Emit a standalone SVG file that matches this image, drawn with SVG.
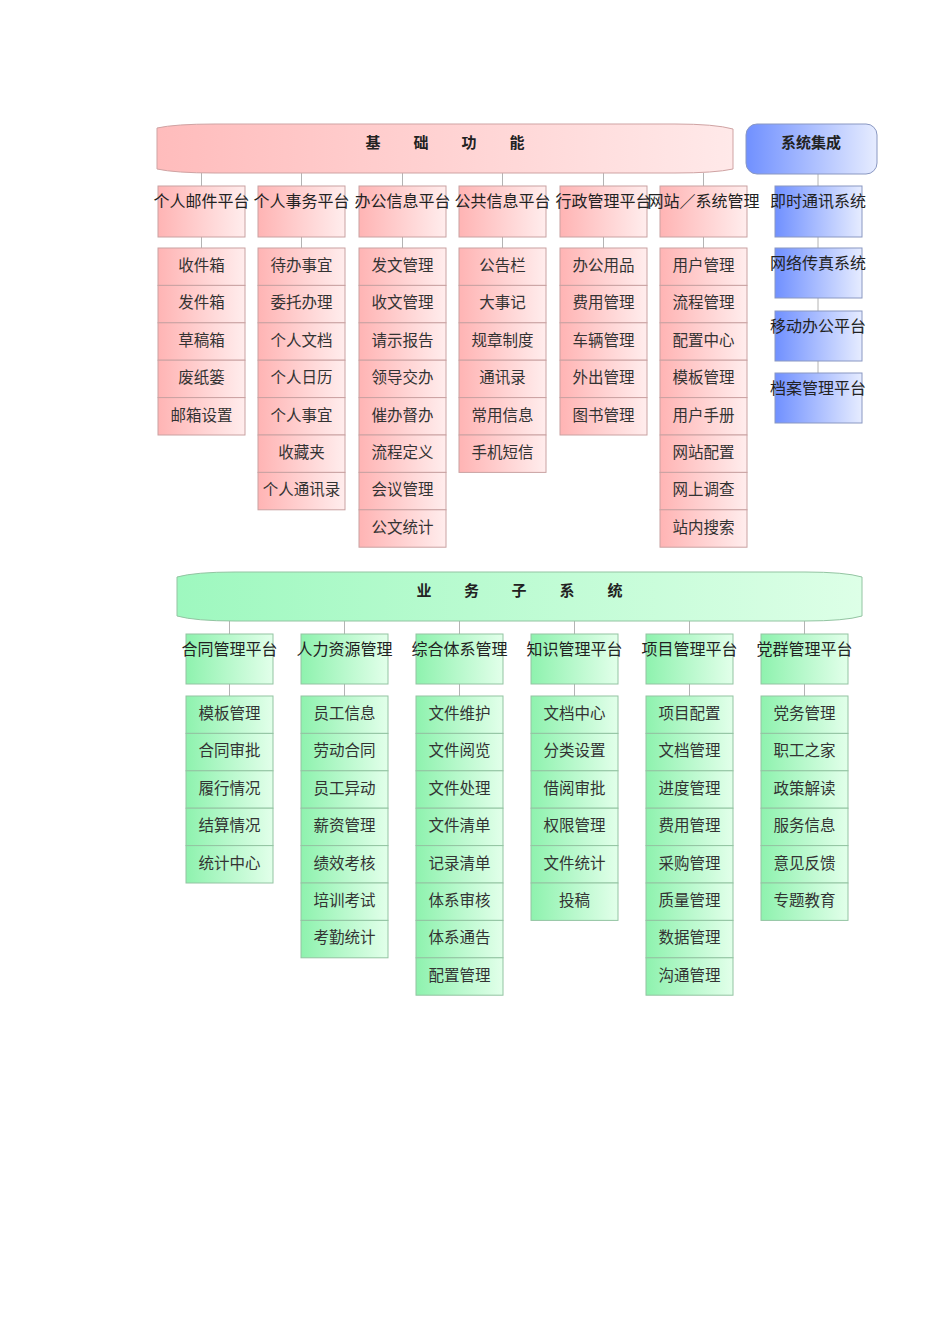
<svg xmlns="http://www.w3.org/2000/svg" width="950" height="1344" viewBox="0 0 950 1344">
<defs>
<linearGradient id="gR" x1="0" y1="0" x2="1" y2="0"><stop offset="0" stop-color="#ffb4b4"/><stop offset="1" stop-color="#ffeded"/></linearGradient>
<linearGradient id="gRB" x1="0" y1="0" x2="1" y2="0"><stop offset="0" stop-color="#ffbcbc"/><stop offset="1" stop-color="#ffe9e9"/></linearGradient>
<linearGradient id="gG" x1="0" y1="0" x2="1" y2="0"><stop offset="0" stop-color="#8ef2ae"/><stop offset="1" stop-color="#e2ffea"/></linearGradient>
<linearGradient id="gGB" x1="0" y1="0" x2="1" y2="0"><stop offset="0" stop-color="#9ef8bf"/><stop offset="1" stop-color="#ddffe7"/></linearGradient>
<linearGradient id="gB" x1="0" y1="0" x2="1" y2="0"><stop offset="0" stop-color="#7090ff"/><stop offset="1" stop-color="#e6ecff"/></linearGradient>
</defs>
<style>
.r{fill:url(#gR);stroke:#c9a2a2;stroke-width:1}
.g{fill:url(#gG);stroke:#93c4a2;stroke-width:1}
.b{fill:url(#gB);stroke:#8a98c2;stroke-width:1}
.t{font-family:"Noto Sans CJK SC","Noto Sans",sans-serif;font-size:15.5px;fill:#333;text-anchor:middle}
.h{font-family:"Noto Sans CJK SC","Noto Sans",sans-serif;font-size:16px;fill:#222;text-anchor:middle}
.ti{font-family:"Noto Sans CJK SC","Noto Sans",sans-serif;font-size:15px;font-weight:bold;fill:#222;text-anchor:middle}
.c{stroke:#b4b4b4;stroke-width:1;fill:none}
</style>
<rect width="950" height="1344" fill="#ffffff"/>

<g id="connectors">
<path class="c" d="M201.5,173V186M301.5,173V186M402.5,173V186M502.5,173V186M603.5,173V186M703.5,173V186"/>
<path class="c" d="M201.5,237V248M301.5,237V248M402.5,237V248M502.5,237V248M603.5,237V248M703.5,237V248"/>
<path class="c" d="M818,174V186M818,237V248M818,298V311M818,361V373"/>
<path class="c" d="M229.5,621V634M344.5,621V634M459.5,621V634M574.5,621V634M689.5,621V634M804.5,621V634"/>
<path class="c" d="M229.5,684V696M344.5,684V696M459.5,684V696M574.5,684V696M689.5,684V696M804.5,684V696"/>
</g>

<g id="banner-basic">
<path d="M157,128 Q175,124 215,124 L675,124 Q715,124 733,129 L733,169 Q715,173 675,173 L215,173 Q175,173 157,169 Z" fill="url(#gRB)" stroke="#cfa3a3"/>
<text class="ti" x="373 421 469 517" y="148">基础功能</text>
</g>
<g id="banner-integration">
<rect x="746" y="124" width="131" height="50" rx="11" class="b"/>
<text class="ti" x="811" y="148">系统集成</text>
</g>
<g id="banner-business">
<path d="M177,577 Q195,572 235,572 L805,572 Q845,572 862,577 L862,616 Q845,621 805,621 L235,621 Q195,621 177,616 Z" fill="url(#gGB)" stroke="#93c4a2"/>
<text class="ti" x="424 471.5 519 567 615" y="596">业务子系统</text>
</g>

<!-- red platforms -->
<g id="p-mail"><rect class="r" x="158" y="186" width="87" height="51"/><text class="h" x="201.5" y="207">个人邮件平台</text></g>
<g id="p-affair"><rect class="r" x="258" y="186" width="87" height="51"/><text class="h" x="301.5" y="207">个人事务平台</text></g>
<g id="p-office"><rect class="r" x="359" y="186" width="87" height="51"/><text class="h" x="402.5" y="207">办公信息平台</text></g>
<g id="p-public"><rect class="r" x="459" y="186" width="87" height="51"/><text class="h" x="502.5" y="207">公共信息平台</text></g>
<g id="p-admin"><rect class="r" x="560" y="186" width="87" height="51"/><text class="h" x="603.5" y="207">行政管理平台</text></g>
<g id="p-site"><rect class="r" x="660" y="186" width="87" height="51"/><text class="h" x="703.5" y="207">网站／系统管理</text></g>

<!-- blue -->
<g id="b-im"><rect class="b" x="775" y="186" width="87" height="51"/><text class="h" x="818" y="207">即时通讯系统</text></g>
<g id="b-fax"><rect class="b" x="775" y="248" width="87" height="50"/><text class="h" x="818" y="269">网络传真系统</text></g>
<g id="b-mobile"><rect class="b" x="775" y="311" width="87" height="50"/><text class="h" x="818" y="332">移动办公平台</text></g>
<g id="b-archive"><rect class="b" x="775" y="373" width="87" height="50"/><text class="h" x="818" y="394">档案管理平台</text></g>

<!-- red col 1 -->
<g id="r1-1"><rect class="r" x="158" y="248" width="87" height="37.4"/><text class="t" x="201.5" y="271">收件箱</text></g>
<g id="r1-2"><rect class="r" x="158" y="285.4" width="87" height="37.4"/><text class="t" x="201.5" y="308.4">发件箱</text></g>
<g id="r1-3"><rect class="r" x="158" y="322.8" width="87" height="37.4"/><text class="t" x="201.5" y="345.8">草稿箱</text></g>
<g id="r1-4"><rect class="r" x="158" y="360.2" width="87" height="37.4"/><text class="t" x="201.5" y="383.2">废纸篓</text></g>
<g id="r1-5"><rect class="r" x="158" y="397.6" width="87" height="37.4"/><text class="t" x="201.5" y="420.6">邮箱设置</text></g>
<!-- red col 2 -->
<g id="r2-1"><rect class="r" x="258" y="248" width="87" height="37.4"/><text class="t" x="301.5" y="271">待办事宜</text></g>
<g id="r2-2"><rect class="r" x="258" y="285.4" width="87" height="37.4"/><text class="t" x="301.5" y="308.4">委托办理</text></g>
<g id="r2-3"><rect class="r" x="258" y="322.8" width="87" height="37.4"/><text class="t" x="301.5" y="345.8">个人文档</text></g>
<g id="r2-4"><rect class="r" x="258" y="360.2" width="87" height="37.4"/><text class="t" x="301.5" y="383.2">个人日历</text></g>
<g id="r2-5"><rect class="r" x="258" y="397.6" width="87" height="37.4"/><text class="t" x="301.5" y="420.6">个人事宜</text></g>
<g id="r2-6"><rect class="r" x="258" y="435" width="87" height="37.4"/><text class="t" x="301.5" y="458">收藏夹</text></g>
<g id="r2-7"><rect class="r" x="258" y="472.4" width="87" height="37.4"/><text class="t" x="301.5" y="495.4">个人通讯录</text></g>
<!-- red col 3 -->
<g id="r3-1"><rect class="r" x="359" y="248" width="87" height="37.4"/><text class="t" x="402.5" y="271">发文管理</text></g>
<g id="r3-2"><rect class="r" x="359" y="285.4" width="87" height="37.4"/><text class="t" x="402.5" y="308.4">收文管理</text></g>
<g id="r3-3"><rect class="r" x="359" y="322.8" width="87" height="37.4"/><text class="t" x="402.5" y="345.8">请示报告</text></g>
<g id="r3-4"><rect class="r" x="359" y="360.2" width="87" height="37.4"/><text class="t" x="402.5" y="383.2">领导交办</text></g>
<g id="r3-5"><rect class="r" x="359" y="397.6" width="87" height="37.4"/><text class="t" x="402.5" y="420.6">催办督办</text></g>
<g id="r3-6"><rect class="r" x="359" y="435" width="87" height="37.4"/><text class="t" x="402.5" y="458">流程定义</text></g>
<g id="r3-7"><rect class="r" x="359" y="472.4" width="87" height="37.4"/><text class="t" x="402.5" y="495.4">会议管理</text></g>
<g id="r3-8"><rect class="r" x="359" y="509.8" width="87" height="37.4"/><text class="t" x="402.5" y="532.8">公文统计</text></g>
<!-- red col 4 -->
<g id="r4-1"><rect class="r" x="459" y="248" width="87" height="37.4"/><text class="t" x="502.5" y="271">公告栏</text></g>
<g id="r4-2"><rect class="r" x="459" y="285.4" width="87" height="37.4"/><text class="t" x="502.5" y="308.4">大事记</text></g>
<g id="r4-3"><rect class="r" x="459" y="322.8" width="87" height="37.4"/><text class="t" x="502.5" y="345.8">规章制度</text></g>
<g id="r4-4"><rect class="r" x="459" y="360.2" width="87" height="37.4"/><text class="t" x="502.5" y="383.2">通讯录</text></g>
<g id="r4-5"><rect class="r" x="459" y="397.6" width="87" height="37.4"/><text class="t" x="502.5" y="420.6">常用信息</text></g>
<g id="r4-6"><rect class="r" x="459" y="435" width="87" height="37.4"/><text class="t" x="502.5" y="458">手机短信</text></g>
<!-- red col 5 -->
<g id="r5-1"><rect class="r" x="560" y="248" width="87" height="37.4"/><text class="t" x="603.5" y="271">办公用品</text></g>
<g id="r5-2"><rect class="r" x="560" y="285.4" width="87" height="37.4"/><text class="t" x="603.5" y="308.4">费用管理</text></g>
<g id="r5-3"><rect class="r" x="560" y="322.8" width="87" height="37.4"/><text class="t" x="603.5" y="345.8">车辆管理</text></g>
<g id="r5-4"><rect class="r" x="560" y="360.2" width="87" height="37.4"/><text class="t" x="603.5" y="383.2">外出管理</text></g>
<g id="r5-5"><rect class="r" x="560" y="397.6" width="87" height="37.4"/><text class="t" x="603.5" y="420.6">图书管理</text></g>
<!-- red col 6 -->
<g id="r6-1"><rect class="r" x="660" y="248" width="87" height="37.4"/><text class="t" x="703.5" y="271">用户管理</text></g>
<g id="r6-2"><rect class="r" x="660" y="285.4" width="87" height="37.4"/><text class="t" x="703.5" y="308.4">流程管理</text></g>
<g id="r6-3"><rect class="r" x="660" y="322.8" width="87" height="37.4"/><text class="t" x="703.5" y="345.8">配置中心</text></g>
<g id="r6-4"><rect class="r" x="660" y="360.2" width="87" height="37.4"/><text class="t" x="703.5" y="383.2">模板管理</text></g>
<g id="r6-5"><rect class="r" x="660" y="397.6" width="87" height="37.4"/><text class="t" x="703.5" y="420.6">用户手册</text></g>
<g id="r6-6"><rect class="r" x="660" y="435" width="87" height="37.4"/><text class="t" x="703.5" y="458">网站配置</text></g>
<g id="r6-7"><rect class="r" x="660" y="472.4" width="87" height="37.4"/><text class="t" x="703.5" y="495.4">网上调查</text></g>
<g id="r6-8"><rect class="r" x="660" y="509.8" width="87" height="37.4"/><text class="t" x="703.5" y="532.8">站内搜索</text></g>

<!-- green platforms -->
<g id="p-contract"><rect class="g" x="186" y="634" width="87" height="50"/><text class="h" x="229.5" y="655">合同管理平台</text></g>
<g id="p-hr"><rect class="g" x="301" y="634" width="87" height="50"/><text class="h" x="344.5" y="655">人力资源管理</text></g>
<g id="p-system"><rect class="g" x="416" y="634" width="87" height="50"/><text class="h" x="459.5" y="655">综合体系管理</text></g>
<g id="p-knowledge"><rect class="g" x="531" y="634" width="87" height="50"/><text class="h" x="574.5" y="655">知识管理平台</text></g>
<g id="p-project"><rect class="g" x="646" y="634" width="87" height="50"/><text class="h" x="689.5" y="655">项目管理平台</text></g>
<g id="p-party"><rect class="g" x="761" y="634" width="87" height="50"/><text class="h" x="804.5" y="655">党群管理平台</text></g>

<!-- green col 1 -->
<g id="g1-1"><rect class="g" x="186" y="696" width="87" height="37.4"/><text class="t" x="229.5" y="719">模板管理</text></g>
<g id="g1-2"><rect class="g" x="186" y="733.4" width="87" height="37.4"/><text class="t" x="229.5" y="756.4">合同审批</text></g>
<g id="g1-3"><rect class="g" x="186" y="770.8" width="87" height="37.4"/><text class="t" x="229.5" y="793.8">履行情况</text></g>
<g id="g1-4"><rect class="g" x="186" y="808.2" width="87" height="37.4"/><text class="t" x="229.5" y="831.2">结算情况</text></g>
<g id="g1-5"><rect class="g" x="186" y="845.6" width="87" height="37.4"/><text class="t" x="229.5" y="868.6">统计中心</text></g>
<!-- green col 2 -->
<g id="g2-1"><rect class="g" x="301" y="696" width="87" height="37.4"/><text class="t" x="344.5" y="719">员工信息</text></g>
<g id="g2-2"><rect class="g" x="301" y="733.4" width="87" height="37.4"/><text class="t" x="344.5" y="756.4">劳动合同</text></g>
<g id="g2-3"><rect class="g" x="301" y="770.8" width="87" height="37.4"/><text class="t" x="344.5" y="793.8">员工异动</text></g>
<g id="g2-4"><rect class="g" x="301" y="808.2" width="87" height="37.4"/><text class="t" x="344.5" y="831.2">薪资管理</text></g>
<g id="g2-5"><rect class="g" x="301" y="845.6" width="87" height="37.4"/><text class="t" x="344.5" y="868.6">绩效考核</text></g>
<g id="g2-6"><rect class="g" x="301" y="883" width="87" height="37.4"/><text class="t" x="344.5" y="906">培训考试</text></g>
<g id="g2-7"><rect class="g" x="301" y="920.4" width="87" height="37.4"/><text class="t" x="344.5" y="943.4">考勤统计</text></g>
<!-- green col 3 -->
<g id="g3-1"><rect class="g" x="416" y="696" width="87" height="37.4"/><text class="t" x="459.5" y="719">文件维护</text></g>
<g id="g3-2"><rect class="g" x="416" y="733.4" width="87" height="37.4"/><text class="t" x="459.5" y="756.4">文件阅览</text></g>
<g id="g3-3"><rect class="g" x="416" y="770.8" width="87" height="37.4"/><text class="t" x="459.5" y="793.8">文件处理</text></g>
<g id="g3-4"><rect class="g" x="416" y="808.2" width="87" height="37.4"/><text class="t" x="459.5" y="831.2">文件清单</text></g>
<g id="g3-5"><rect class="g" x="416" y="845.6" width="87" height="37.4"/><text class="t" x="459.5" y="868.6">记录清单</text></g>
<g id="g3-6"><rect class="g" x="416" y="883" width="87" height="37.4"/><text class="t" x="459.5" y="906">体系审核</text></g>
<g id="g3-7"><rect class="g" x="416" y="920.4" width="87" height="37.4"/><text class="t" x="459.5" y="943.4">体系通告</text></g>
<g id="g3-8"><rect class="g" x="416" y="957.8" width="87" height="37.4"/><text class="t" x="459.5" y="980.8">配置管理</text></g>
<!-- green col 4 -->
<g id="g4-1"><rect class="g" x="531" y="696" width="87" height="37.4"/><text class="t" x="574.5" y="719">文档中心</text></g>
<g id="g4-2"><rect class="g" x="531" y="733.4" width="87" height="37.4"/><text class="t" x="574.5" y="756.4">分类设置</text></g>
<g id="g4-3"><rect class="g" x="531" y="770.8" width="87" height="37.4"/><text class="t" x="574.5" y="793.8">借阅审批</text></g>
<g id="g4-4"><rect class="g" x="531" y="808.2" width="87" height="37.4"/><text class="t" x="574.5" y="831.2">权限管理</text></g>
<g id="g4-5"><rect class="g" x="531" y="845.6" width="87" height="37.4"/><text class="t" x="574.5" y="868.6">文件统计</text></g>
<g id="g4-6"><rect class="g" x="531" y="883" width="87" height="37.4"/><text class="t" x="574.5" y="906">投稿</text></g>
<!-- green col 5 -->
<g id="g5-1"><rect class="g" x="646" y="696" width="87" height="37.4"/><text class="t" x="689.5" y="719">项目配置</text></g>
<g id="g5-2"><rect class="g" x="646" y="733.4" width="87" height="37.4"/><text class="t" x="689.5" y="756.4">文档管理</text></g>
<g id="g5-3"><rect class="g" x="646" y="770.8" width="87" height="37.4"/><text class="t" x="689.5" y="793.8">进度管理</text></g>
<g id="g5-4"><rect class="g" x="646" y="808.2" width="87" height="37.4"/><text class="t" x="689.5" y="831.2">费用管理</text></g>
<g id="g5-5"><rect class="g" x="646" y="845.6" width="87" height="37.4"/><text class="t" x="689.5" y="868.6">采购管理</text></g>
<g id="g5-6"><rect class="g" x="646" y="883" width="87" height="37.4"/><text class="t" x="689.5" y="906">质量管理</text></g>
<g id="g5-7"><rect class="g" x="646" y="920.4" width="87" height="37.4"/><text class="t" x="689.5" y="943.4">数据管理</text></g>
<g id="g5-8"><rect class="g" x="646" y="957.8" width="87" height="37.4"/><text class="t" x="689.5" y="980.8">沟通管理</text></g>
<!-- green col 6 -->
<g id="g6-1"><rect class="g" x="761" y="696" width="87" height="37.4"/><text class="t" x="804.5" y="719">党务管理</text></g>
<g id="g6-2"><rect class="g" x="761" y="733.4" width="87" height="37.4"/><text class="t" x="804.5" y="756.4">职工之家</text></g>
<g id="g6-3"><rect class="g" x="761" y="770.8" width="87" height="37.4"/><text class="t" x="804.5" y="793.8">政策解读</text></g>
<g id="g6-4"><rect class="g" x="761" y="808.2" width="87" height="37.4"/><text class="t" x="804.5" y="831.2">服务信息</text></g>
<g id="g6-5"><rect class="g" x="761" y="845.6" width="87" height="37.4"/><text class="t" x="804.5" y="868.6">意见反馈</text></g>
<g id="g6-6"><rect class="g" x="761" y="883" width="87" height="37.4"/><text class="t" x="804.5" y="906">专题教育</text></g>
</svg>
